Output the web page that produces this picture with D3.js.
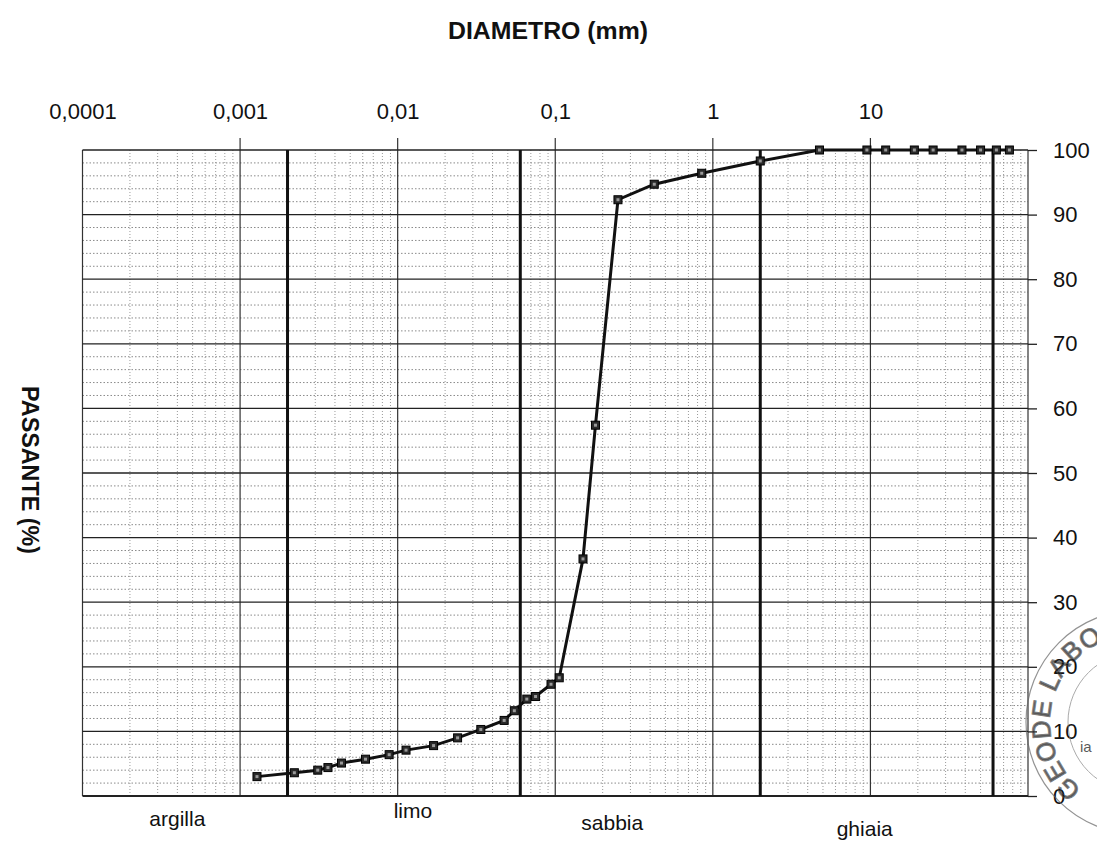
<!DOCTYPE html>
<html>
<head>
<meta charset="utf-8">
<script src="https://cdn.jsdelivr.net/npm/d3@7"></script>
<style>
  body { margin: 0; background: #fff; }
  svg text { font-family: "Liberation Sans", Arial, sans-serif; fill: #111; }
</style>
</head>
<body>
<script>
// curva granulometrica: diametro (mm) / passante (%)
const diametri = [0.00128, 0.00221, 0.00311, 0.00361, 0.0044, 0.00625, 0.00883, 0.0113, 0.0169,
  0.024, 0.0337, 0.0474, 0.055, 0.066, 0.075, 0.094, 0.106,
  0.15, 0.18, 0.25, 0.425, 0.85, 2.0, 4.75, 9.5, 12.5, 19.0, 25.0, 38.1, 50.0, 63.0, 76.2];
const passante = [3.0, 3.6, 4.0, 4.4, 5.1, 5.7, 6.4, 7.1, 7.8,
  9.0, 10.3, 11.7, 13.2, 15.0, 15.4, 17.3, 18.3,
  36.7, 57.4, 92.3, 94.7, 96.4, 98.3, 100, 100, 100, 100, 100, 100, 100, 100, 100];

const xTicks = [0.0001, 0.001, 0.01, 0.1, 1, 10];
const xTickLabels = ["0,0001", "0,001", "0,01", "0,1", "1", "10"];
const yTicks = [0, 10, 20, 30, 40, 50, 60, 70, 80, 90, 100];
const limiti = [0.002, 0.06, 2, 60];          // argilla | limo | sabbia | ghiaia
const classi = ["argilla", "limo", "sabbia", "ghiaia"];

// label placement (layout only)
const classiPos = [0.0004, 0.0125, 0.23, 9.2];
const classiY = [826, 818, 830, 836];

const width = 1097, height = 861;
const margin = { top: 150, right: 69, bottom: 65, left: 82.5 };

const svg = d3.select("body").append("svg")
  .attr("width", width)
  .attr("height", height);

const x = d3.scaleLog().domain([0.0001, 100]).range([margin.left, width - margin.right]);
const y = d3.scaleLinear().domain([0, 100]).range([height - margin.bottom, margin.top]);

const x0 = x.range()[0], x1 = x.range()[1];
const y0 = y.range()[0], y1 = y.range()[1];

// minor grid - vertical (2..9 per decade)
const minorX = [];
xTicks.forEach(function(d) {
  for (let k = 2; k <= 9; k++) minorX.push(d * k);
});
svg.append("g").selectAll("line").data(minorX).join("line")
  .attr("x1", d => x(d)).attr("x2", d => x(d))
  .attr("y1", y1).attr("y2", y0)
  .attr("stroke", "#9a9a9a").attr("stroke-width", 1)
  .attr("stroke-dasharray", "1,2");

// minor grid - horizontal (every 2 %)
const minorY = d3.range(2, 100, 2).filter(d => d % 10 !== 0);
svg.append("g").selectAll("line").data(minorY).join("line")
  .attr("x1", x0).attr("x2", x1)
  .attr("y1", d => y(d)).attr("y2", d => y(d))
  .attr("stroke", "#8a8a8a").attr("stroke-width", 1)
  .attr("stroke-dasharray", "1.5,2");

// major grid
svg.append("g").selectAll("line").data(xTicks.concat([100])).join("line")
  .attr("x1", d => x(d)).attr("x2", d => x(d))
  .attr("y1", (d, i) => (i > 0 && i < xTicks.length) ? y1 - 12 : y1).attr("y2", y0)
  .attr("stroke", "#333").attr("stroke-width", 1.2);

svg.append("g").selectAll("line").data(yTicks).join("line")
  .attr("x1", x0).attr("x2", x1)
  .attr("y1", d => y(d)).attr("y2", d => y(d))
  .attr("stroke", "#222").attr("stroke-width", d => d === 0 ? 2 : 1.3);

// limits between classes
svg.append("g").selectAll("line").data(limiti).join("line")
  .attr("x1", d => x(d)).attr("x2", d => x(d))
  .attr("y1", y1).attr("y2", y0)
  .attr("stroke", "#111").attr("stroke-width", 3);

// axes
const xAxis = d3.axisTop(x)
  .tickValues(xTicks)
  .tickSize(0)
  .tickPadding(31)
  .tickFormat((d, i) => xTickLabels[i]);
svg.append("g")
  .attr("transform", "translate(0," + y1 + ")")
  .call(xAxis)
  .call(g => g.select(".domain").remove())
  .selectAll("text")
  .attr("font-size", 22)
  .attr("fill", "#111");

const yAxis = d3.axisRight(y)
  .tickValues(yTicks)
  .tickSize(9)
  .tickPadding(16);
svg.append("g")
  .attr("transform", "translate(" + x1 + ",0)")
  .call(yAxis)
  .call(g => g.select(".domain").remove())
  .call(g => g.selectAll(".tick line").attr("stroke", "#222").attr("stroke-width", 1.3))
  .selectAll("text")
  .attr("font-size", 22)
  .attr("fill", "#111");

// curve
const line = d3.line()
  .x((d, i) => x(diametri[i]))
  .y(d => y(d));

svg.append("path")
  .datum(passante)
  .attr("d", line)
  .attr("fill", "none")
  .attr("stroke", "#111")
  .attr("stroke-width", 3);

svg.append("g").selectAll("rect").data(passante).join("rect")
  .attr("x", (d, i) => x(diametri[i]) - 4)
  .attr("y", d => y(d) - 4)
  .attr("width", 8).attr("height", 8)
  .attr("fill", "#2a2a2a").attr("stroke", "#000").attr("stroke-width", 1);

svg.append("g").selectAll("rect").data(passante).join("rect")
  .attr("x", (d, i) => x(diametri[i]) - 1.5)
  .attr("y", d => y(d) - 1.5)
  .attr("width", 3).attr("height", 3)
  .attr("fill", "#999");

// titles
svg.append("text")
  .attr("x", 548).attr("y", 39)
  .attr("text-anchor", "middle")
  .attr("font-size", 24).attr("font-weight", "bold")
  .attr("textLength", 200).attr("lengthAdjust", "spacingAndGlyphs")
  .text("DIAMETRO (mm)");

svg.append("text")
  .attr("transform", "translate(22,470) rotate(90)")
  .attr("text-anchor", "middle")
  .attr("font-size", 23).attr("font-weight", "bold")
  .attr("textLength", 168).attr("lengthAdjust", "spacingAndGlyphs")
  .text("PASSANTE (%)");

svg.append("g").selectAll("text").data(classi).join("text")
  .attr("x", (d, i) => x(classiPos[i]))
  .attr("y", (d, i) => classiY[i])
  .attr("text-anchor", "middle")
  .attr("font-size", 21)
  .text(d => d);

// timbro (stamp) in basso a destra
const stamp = svg.append("g").attr("opacity", 0.7);
const cx = 1138, cy = 722;
stamp.append("circle").attr("cx", cx).attr("cy", cy).attr("r", 112)
  .attr("fill", "none").attr("stroke", "#666").attr("stroke-width", 1.2);
stamp.append("circle").attr("cx", cx).attr("cy", cy).attr("r", 70)
  .attr("fill", "none").attr("stroke", "#888").attr("stroke-width", 1);
const arc = d3.path();
arc.arc(cx, cy, 88, Math.PI * 0.72, Math.PI * 1.5, false);
stamp.append("path").attr("id", "stampArc").attr("d", arc.toString()).attr("fill", "none");
stamp.append("text")
  .attr("font-size", 26).attr("fill", "none")
  .attr("stroke", "#444").attr("stroke-width", 1)
  .attr("letter-spacing", 1)
  .append("textPath").attr("href", "#stampArc")
  .text("GEODE LABO");
stamp.append("text").attr("x", 1080).attr("y", 752)
  .attr("font-size", 15).attr("fill", "#555").text("ia");
</script>
</body>
</html>
